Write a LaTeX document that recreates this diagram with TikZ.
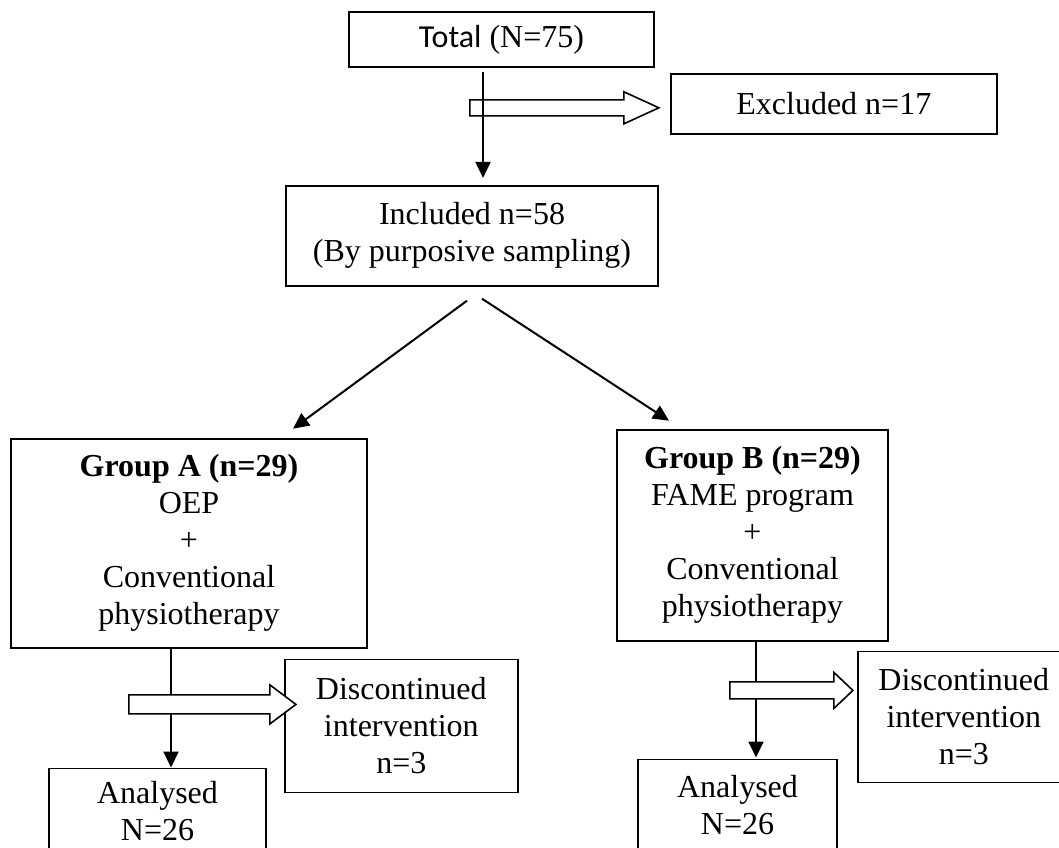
\documentclass[tikz,border=0pt]{standalone}
\usepackage{fontspec}
\setmainfont{Liberation Serif}
\newfontfamily\calibri{Carlito}
\usetikzlibrary{positioning, arrows.meta}

\begin{document}
\begin{tikzpicture}[x=0.5pt, y=-0.5pt,
        font=\fontsize{16}{18.5}\selectfont,
        >={Triangle[length=8pt, width=7.5pt]},
        box/.style={draw, line width=0.9pt, align=center, inner sep=2pt},
        flow/.style={->, line width=1pt},
        hollow/.style={draw, line width=0.8pt, fill=white, line join=miter}]
        \useasboundingbox (0,0) rectangle (1059,847);
        \clip (0,0) rectangle (1059,847);
        \node [box, minimum width=152.5pt, minimum height=27.5pt] (total) at (501.5,39.5) {{\calibri Total} (N=75)};
        \node [box, minimum width=163pt, minimum height=30pt, below right=2.5pt and 7.5pt of total] (excl) {Excluded n=17};
        \node [box, minimum width=186pt, minimum height=50pt, below=58.5pt of total, xshift=-14.75pt] (incl) {Included n=58\\(By purposive sampling)};
        \node [box, minimum width=178pt, minimum height=104.5pt, below=75.5pt of incl, xshift=-141.5pt] (grpA) {\textbf{Group A (n=29)}\\OEP\\+\\Conventional\\physiotherapy};
        \node [box, minimum width=135.5pt, minimum height=105.5pt, below=71pt of incl, xshift=140.25pt] (grpB) {\textbf{Group B (n=29)}\\FAME program\\+\\Conventional\\physiotherapy};
        \node [box, minimum width=116.5pt, minimum height=66.5pt, below right=5pt and -42pt of grpA] (discA) {Discontinued\\intervention\\n=3};
        \node [box, minimum width=106pt, minimum height=65.5pt, below right=4.5pt and -16pt of grpB] (discB) {Discontinued\\intervention\\n=3};
        \node [box, minimum width=108.5pt, minimum height=43pt, below=59.5pt of grpA, xshift=-15.75pt] (anaA) {Analysed\\N=26};
        \node [box, minimum width=99.5pt, minimum height=45.5pt, below=58.5pt of grpB, xshift=-7.5pt] (anaB) {Analysed\\N=26};
        \coordinate (tipE) at ([xshift=-5.5pt, yshift=-2pt]excl.west);
        \coordinate (tipA) at ([xshift=6pt, yshift=10.75pt]discA.west);
        \coordinate (tipB) at ([xshift=-2pt, yshift=13.25pt]discB.west);
        \draw [hollow] (tipE) -- ++(-17.5pt,8pt) -- ++(0,-4pt) -- ++(-77pt,0) -- ++(0,-8pt) -- ++(77pt,0) -- ++(0,-4pt) -- cycle;
        \draw [flow] ([xshift=-9.25pt, yshift=-2pt]total.south) -- ([xshift=5.5pt, yshift=3.5pt]incl.north);
        \draw [flow] ([xshift=-2.5pt, yshift=-7pt]incl.south) -- ([xshift=52pt, yshift=4.5pt]grpA.north);
        \draw [flow] ([xshift=5pt, yshift=-6pt]incl.south) -- ([xshift=-41.75pt, yshift=4pt]grpB.north);
        \draw [flow] ([xshift=-9pt]grpA.south) -- ([xshift=6.75pt]anaA.north);
        \draw [flow] ([xshift=1.75pt]grpB.south) -- ([xshift=9.25pt, yshift=0.5pt]anaB.north);
        \draw [hollow] (tipA) -- ++(-13pt,9.75pt) -- ++(0,-5pt) -- ++(-70.5pt,0) -- ++(0,-9.5pt) -- ++(70.5pt,0) -- ++(0,-5pt) -- cycle;
        \draw [hollow] (tipB) -- ++(-9.5pt,9pt) -- ++(0,-4.75pt) -- ++(-52pt,0) -- ++(0,-8.5pt) -- ++(52pt,0) -- ++(0,-4.75pt) -- cycle;
    \end{tikzpicture}
\end{document}
